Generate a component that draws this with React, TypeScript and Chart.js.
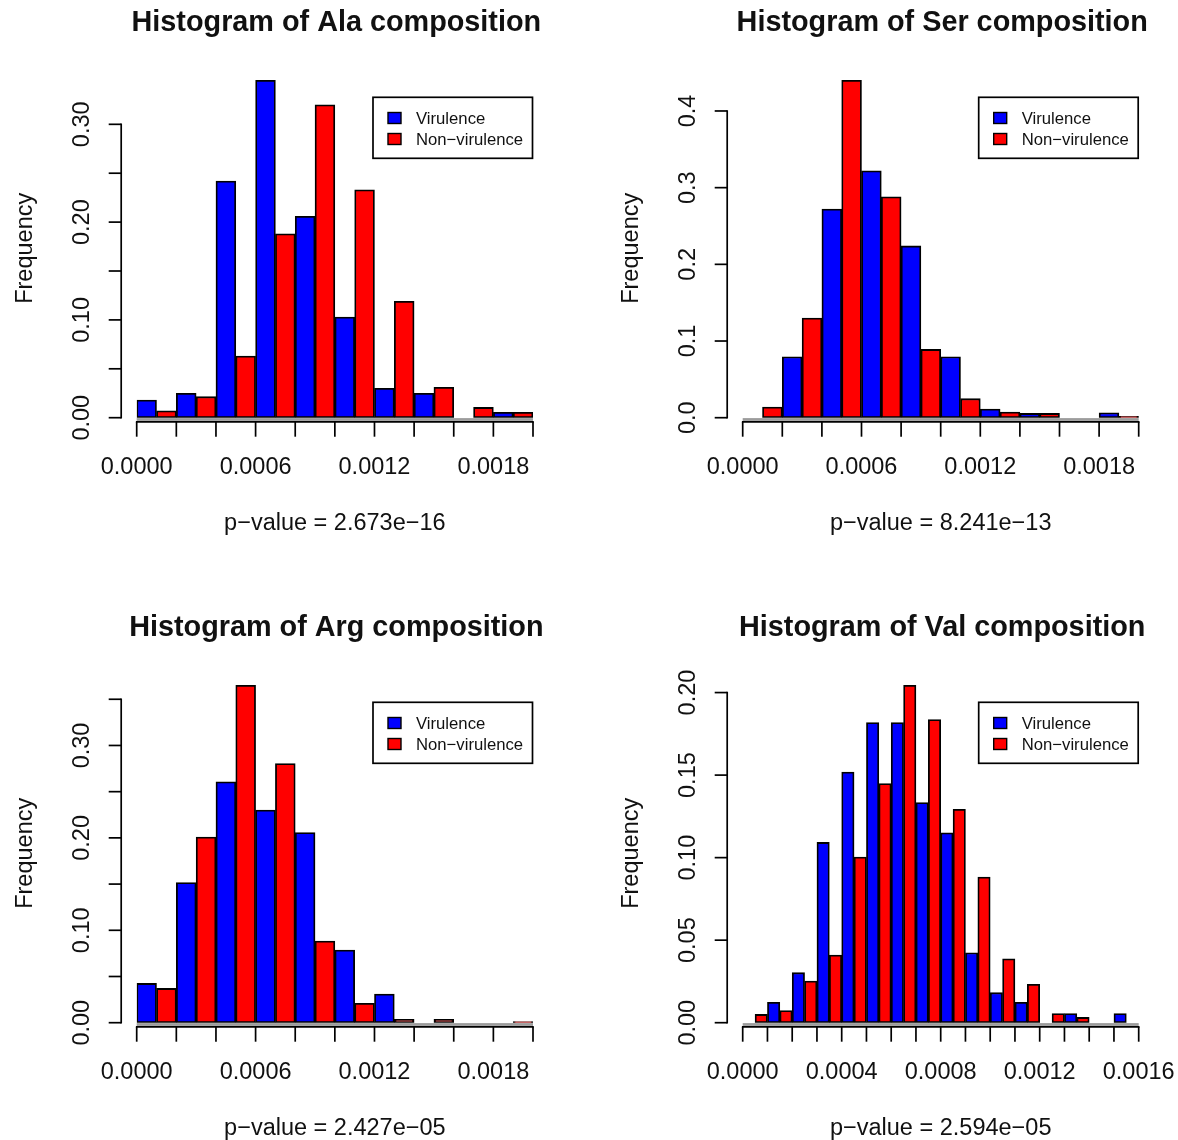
import React, { useEffect, useRef } from "react";
import { Chart, registerables } from "chart.js";

Chart.register(...registerables);

// ---------- data ----------
const seriesNames = ["Virulence", "Non\u2212virulence"];
const seriesColors = ["#0000ff", "#ff0000"];

// bins of width 0.0002 (Ala, Ser, Arg)
const wideBinMids = [0.0001, 0.0003, 0.0005, 0.0007, 0.0009, 0.0011, 0.0013, 0.0015, 0.0017, 0.0019];
// bins of width 0.0001 (Val)
const narrowBinMids = [
  0.00005, 0.00015, 0.00025, 0.00035, 0.00045, 0.00055, 0.00065, 0.00075,
  0.00085, 0.00095, 0.00105, 0.00115, 0.00125, 0.00135, 0.00145, 0.00155,
];

const alaVirulence = [0.018, 0.025, 0.242, 0.345, 0.206, 0.103, 0.030, 0.025, 0, 0.0055];
const alaNonVirulence = [0.007, 0.0215, 0.063, 0.188, 0.320, 0.233, 0.119, 0.031, 0.0105, 0.0055];

const serVirulence = [0, 0.0795, 0.272, 0.322, 0.224, 0.0795, 0.0113, 0.0056, 0, 0.0065];
const serNonVirulence = [0.0139, 0.130, 0.440, 0.288, 0.089, 0.0248, 0.0074, 0.0056, 0, 0.0017];

const argVirulence = [0.0425, 0.1517, 0.2606, 0.230, 0.2058, 0.0786, 0.031, 0, 0, 0];
const argNonVirulence = [0.0371, 0.2008, 0.3651, 0.2804, 0.0883, 0.0209, 0.0036, 0.0036, 0, 0.0011];

const valVirulence = [0, 0.0123, 0.0303, 0.1092, 0.1519, 0.1818, 0.1818, 0.1334, 0.115, 0.0424, 0.0182, 0.0123, 0, 0.0056, 0, 0.0056];
const valNonVirulence = [0.005, 0.0073, 0.0252, 0.041, 0.1003, 0.1449, 0.2044, 0.1836, 0.1293, 0.0882, 0.0387, 0.0232, 0.0056, 0.0032, 0, 0];

const wideXTicks = [0, 0.0002, 0.0004, 0.0006, 0.0008, 0.001, 0.0012, 0.0014, 0.0016, 0.0018, 0.002];
const wideXLabels = ["0.0000", "", "", "0.0006", "", "", "0.0012", "", "", "0.0018", ""];
const narrowXTicks = [
  0, 0.0001, 0.0002, 0.0003, 0.0004, 0.0005, 0.0006, 0.0007, 0.0008,
  0.0009, 0.001, 0.0011, 0.0012, 0.0013, 0.0014, 0.0015, 0.0016,
];
const narrowXLabels = [
  "0.0000", "", "", "", "0.0004", "", "", "", "0.0008", "", "", "", "0.0012", "", "", "", "0.0016",
];

const alaYTicks = [0, 0.05, 0.1, 0.15, 0.2, 0.25, 0.3];
const alaYLabels = ["0.00", "", "0.10", "", "0.20", "", "0.30"];
const serYTicks = [0, 0.1, 0.2, 0.3, 0.4];
const serYLabels = ["0.0", "0.1", "0.2", "0.3", "0.4"];
const argYTicks = [0, 0.05, 0.1, 0.15, 0.2, 0.25, 0.3, 0.35];
const argYLabels = ["0.00", "", "0.10", "", "0.20", "", "0.30", ""];
const valYTicks = [0, 0.05, 0.1, 0.15, 0.2];
const valYLabels = ["0.00", "0.05", "0.10", "0.15", "0.20"];

const titles = [
  "Histogram of Ala composition",
  "Histogram of Ser composition",
  "Histogram of Arg composition",
  "Histogram of Val composition",
];
const pValues = [
  "p\u2212value = 2.673e\u221216",
  "p\u2212value = 8.241e\u221213",
  "p\u2212value = 2.427e\u221205",
  "p\u2212value = 2.594e\u221205",
];

// ---------- layout ----------
const FONT = '"Liberation Sans", Arial, Helvetica, sans-serif';
const CW = 589;
const CH = 570;
const PLOT_H = 351.7;

type Panel = {
  title: string;
  pvalue: string;
  mids: number[];
  binWidth: number;
  xMax: number;
  vir: number[];
  non: number[];
  xTicks: number[];
  xLabels: string[];
  yTicks: number[];
  yLabels: string[];
  left: number;
  right: number;
  zeroY: number;
  ox: number;
  oy: number;
};

const panels: Panel[] = [
  {
    title: titles[0], pvalue: pValues[0], mids: wideBinMids, binWidth: 0.0002, xMax: 0.002,
    vir: alaVirulence, non: alaNonVirulence, xTicks: wideXTicks, xLabels: wideXLabels,
    yTicks: alaYTicks, yLabels: alaYLabels, left: 136.7, right: 533, zeroY: 417.7, ox: 0, oy: 0,
  },
  {
    title: titles[1], pvalue: pValues[1], mids: wideBinMids, binWidth: 0.0002, xMax: 0.002,
    vir: serVirulence, non: serNonVirulence, xTicks: wideXTicks, xLabels: wideXLabels,
    yTicks: serYTicks, yLabels: serYLabels, left: 742.7, right: 1138.7, zeroY: 417.7, ox: CW, oy: 0,
  },
  {
    title: titles[2], pvalue: pValues[2], mids: wideBinMids, binWidth: 0.0002, xMax: 0.002,
    vir: argVirulence, non: argNonVirulence, xTicks: wideXTicks, xLabels: wideXLabels,
    yTicks: argYTicks, yLabels: argYLabels, left: 136.7, right: 533, zeroY: 1022.7, ox: 0, oy: CH,
  },
  {
    title: titles[3], pvalue: pValues[3], mids: narrowBinMids, binWidth: 0.0001, xMax: 0.0016,
    vir: valVirulence, non: valNonVirulence, xTicks: narrowXTicks, xLabels: narrowXLabels,
    yTicks: valYTicks, yLabels: valYLabels, left: 742.7, right: 1138.7, zeroY: 1022.7, ox: CW, oy: CH,
  },
];

function makePlugin(p: Panel) {
  return {
    id: "rstyle",
    afterDraw(chart: any) {
      const ctx = chart.ctx as CanvasRenderingContext2D;
      const xs = chart.scales.x;
      const ys = chart.scales.y;
      const z = ys.getPixelForValue(0);
      const x0 = xs.getPixelForValue(0);
      const x1 = xs.getPixelForValue(p.xMax);
      const cx = (x0 + x1) / 2;
      const seg = (a: number, b: number, c: number, d: number) => {
        ctx.beginPath();
        ctx.moveTo(a, b);
        ctx.lineTo(c, d);
        ctx.stroke();
      };
      ctx.save();
      // baseline band under the bars
      ctx.fillStyle = "#9c9c9c";
      ctx.fillRect(x0, z + 0.4, x1 - x0, 2.8);

      ctx.strokeStyle = "#000";
      ctx.lineWidth = 1.7;
      ctx.lineCap = "butt";

      // x axis
      const axY = z + 4.2;
      seg(x0 - 0.8, axY, x1 + 0.8, axY);
      ctx.fillStyle = "#111";
      ctx.font = `23.5px ${FONT}`;
      ctx.textAlign = "center";
      ctx.textBaseline = "alphabetic";
      p.xTicks.forEach((t, i) => {
        const px = xs.getPixelForValue(t);
        seg(px, axY, px, z + 19);
        if (p.xLabels[i]) ctx.fillText(p.xLabels[i], px, z + 56);
      });

      // y axis
      const axX = x0 - 15.5;
      const yTop = ys.getPixelForValue(p.yTicks[p.yTicks.length - 1]);
      seg(axX, z + 0.8, axX, yTop - 0.8);
      p.yTicks.forEach((t, i) => {
        const py = ys.getPixelForValue(t);
        seg(axX - 12.5, py, axX, py);
        if (p.yLabels[i]) {
          ctx.save();
          ctx.translate(axX - 32.5, py);
          ctx.rotate(-Math.PI / 2);
          ctx.fillText(p.yLabels[i], 0, 0);
          ctx.restore();
        }
      });

      // y title
      ctx.save();
      ctx.translate(x0 - 105, z - 169.4);
      ctx.rotate(-Math.PI / 2);
      ctx.fillText("Frequency", 0, 0);
      ctx.restore();

      // p-value
      ctx.fillText(p.pvalue, cx, z + 112);

      // main title
      ctx.font = `bold 28.8px ${FONT}`;
      ctx.fillText(p.title, cx + 1.5, z - 386.5);

      // legend
      const bw = 159.5;
      const bh = 61;
      const bx = x1 - 0.5 - bw;
      const by = z - 320.4;
      ctx.fillStyle = "#fff";
      ctx.fillRect(bx, by, bw, bh);
      ctx.lineWidth = 1.7;
      ctx.strokeRect(bx, by, bw, bh);
      ctx.font = `16.7px ${FONT}`;
      ctx.textAlign = "left";
      chart.data.datasets.forEach((ds: any, k: number) => {
        const cy = by + 20.7 + k * 21;
        ctx.fillStyle = ds.backgroundColor;
        ctx.fillRect(bx + 15, cy - 5.5, 13, 11);
        ctx.lineWidth = 1.4;
        ctx.strokeRect(bx + 15, cy - 5.5, 13, 11);
        ctx.fillStyle = "#111";
        ctx.fillText(ds.label, bx + 43, cy + 6);
      });
      ctx.restore();
    },
  };
}

function HistPanel({ p }: { p: Panel }) {
  const ref = useRef<HTMLCanvasElement>(null);
  useEffect(() => {
    const canvas = ref.current;
    if (!canvas) return;
    const yMax = Math.max(...p.vir, ...p.non) * 1.0424;
    const barStyle = {
      borderColor: "#000",
      borderWidth: 1.8,
      borderSkipped: false as const,
      barPercentage: 1,
      categoryPercentage: 1,
    };
    const chart = new Chart(canvas, {
      type: "bar",
      data: {
        datasets: [
          {
            label: seriesNames[0],
            data: p.mids.map((m, i) => ({ x: m, y: p.vir[i] })),
            backgroundColor: seriesColors[0],
            ...barStyle,
          },
          {
            label: seriesNames[1],
            data: p.mids.map((m, i) => ({ x: m, y: p.non[i] })),
            backgroundColor: seriesColors[1],
            ...barStyle,
          },
        ],
      },
      options: {
        animation: false,
        responsive: false,
        devicePixelRatio: 1,
        events: [],
        layout: {
          padding: {
            left: p.left - p.ox,
            right: CW - (p.right - p.ox),
            top: p.zeroY - PLOT_H - p.oy,
            bottom: CH - (p.zeroY - p.oy),
          },
        },
        scales: {
          x: {
            type: "linear",
            display: false,
            offset: false,
            min: 0,
            max: p.xMax,
            ticks: { stepSize: p.binWidth },
            grid: { display: false, offset: false },
          },
          y: {
            type: "linear",
            display: false,
            min: 0,
            max: yMax,
            grid: { display: false },
          },
        },
        plugins: {
          legend: { display: false },
          title: { display: false },
          tooltip: { enabled: false },
        },
      } as any,
      plugins: [makePlugin(p)],
    });
    return () => chart.destroy();
  }, [p]);
  return (
    <canvas
      ref={ref}
      width={CW}
      height={CH}
      style={{ position: "absolute", left: p.ox, top: p.oy, width: CW, height: CH, display: "block" }}
    />
  );
}

export default function App() {
  return (
    <div
      style={{
        position: "absolute",
        left: 0,
        top: 0,
        width: 1178,
        height: 1140,
        background: "#fff",
        overflow: "hidden",
      }}
    >
      {panels.map((p, i) => (
        <HistPanel key={i} p={p} />
      ))}
    </div>
  );
}
